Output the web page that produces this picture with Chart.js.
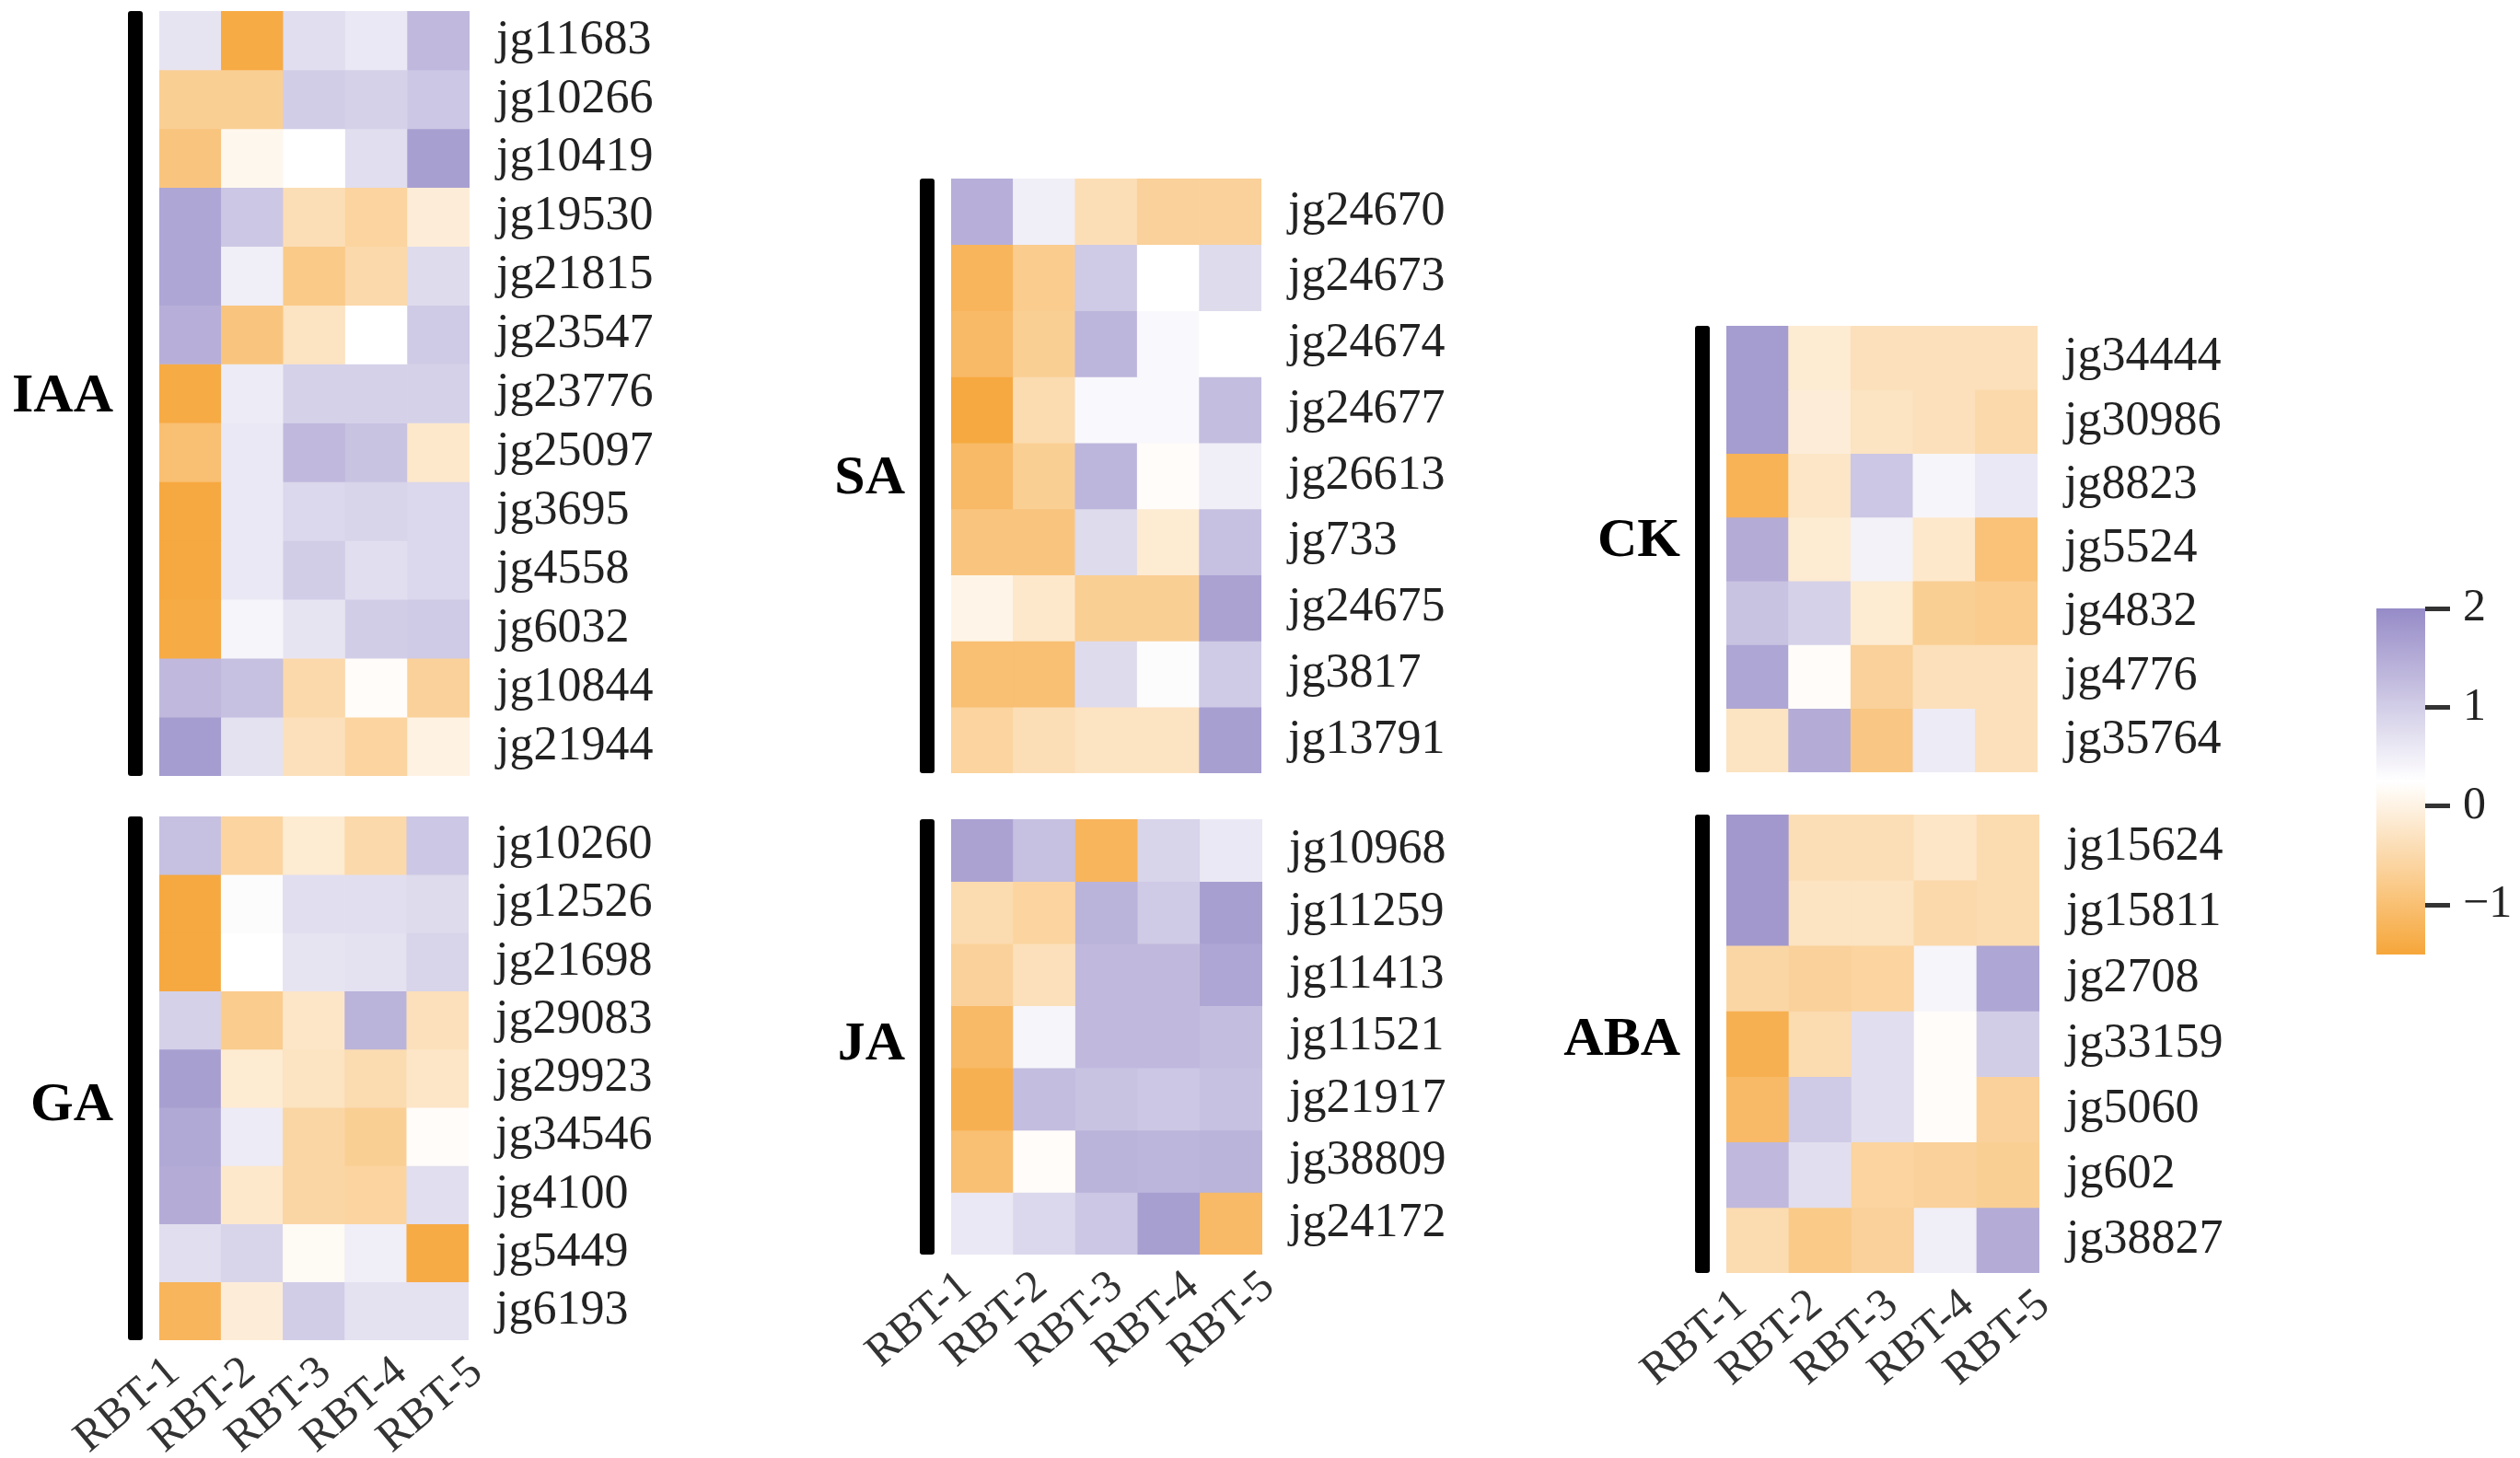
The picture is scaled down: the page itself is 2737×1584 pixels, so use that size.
<!DOCTYPE html>
<html>
<head>
<meta charset="utf-8">
<script src="https://cdn.jsdelivr.net/npm/chart.js@4.4.1/dist/chart.umd.min.js"></script>
<style>
  html, body { margin: 0; padding: 0; background: #ffffff; overflow: hidden; }
  #wrap { position: relative; width: 2737px; height: 1584px; background: #ffffff; }
  .panel { position: absolute; }
</style>
</head>
<body>
<div id="wrap"></div>
<script>
// ---------------- DATA ----------------
const cols = ['RBT-1', 'RBT-2', 'RBT-3', 'RBT-4', 'RBT-5'];

const iaaGenes = ['jg11683','jg10266','jg10419','jg19530','jg21815','jg23547','jg23776','jg25097','jg3695','jg4558','jg6032','jg10844','jg21944'];
const iaaValues = [
  [0.65, -1.40, 0.75, 0.60, 1.30],
  [-0.70, -0.70, 1.00, 0.95, 1.10],
  [-0.90, 0.10, 0.25, 0.75, 1.70],
  [1.60, 1.10, -0.40, -0.60, -0.10],
  [1.60, 0.50, -0.80, -0.50, 0.80],
  [1.45, -0.90, -0.30, 0.25, 1.05],
  [-1.40, 0.55, 0.95, 0.95, 0.95],
  [-1.00, 0.60, 1.30, 1.15, -0.20],
  [-1.45, 0.60, 0.85, 0.90, 0.85],
  [-1.45, 0.60, 1.00, 0.75, 0.85],
  [-1.40, 0.40, 0.65, 1.00, 1.05],
  [1.30, 1.20, -0.50, 0.20, -0.65],
  [1.75, 0.70, -0.35, -0.60, 0.00]
];

const gaGenes = ['jg10260','jg12526','jg21698','jg29083','jg29923','jg34546','jg4100','jg5449','jg6193'];
const gaValues = [
  [1.20, -0.60, -0.15, -0.50, 1.10],
  [-1.45, 0.30, 0.75, 0.75, 0.80],
  [-1.45, 0.25, 0.65, 0.70, 0.90],
  [0.95, -0.75, -0.25, 1.40, -0.35],
  [1.70, -0.15, -0.30, -0.45, -0.25],
  [1.55, 0.55, -0.55, -0.70, 0.20],
  [1.50, -0.20, -0.55, -0.60, 0.75],
  [0.75, 0.90, 0.15, 0.50, -1.40],
  [-1.20, -0.10, 1.00, 0.70, 0.70]
];

const saGenes = ['jg24670','jg24673','jg24674','jg24677','jg26613','jg733','jg24675','jg3817','jg13791'];
const saValues = [
  [1.45, 0.50, -0.40, -0.65, -0.65],
  [-1.20, -0.75, 1.05, 0.25, 0.80],
  [-1.10, -0.70, 1.35, 0.35, 0.25],
  [-1.45, -0.45, 0.35, 0.35, 1.25],
  [-1.10, -0.70, 1.35, 0.20, 0.50],
  [-0.90, -0.90, 0.80, -0.15, 1.20],
  [0.05, -0.20, -0.70, -0.70, 1.65],
  [-1.00, -1.00, 0.80, 0.30, 1.05],
  [-0.60, -0.40, -0.30, -0.30, 1.70]
];

const jaGenes = ['jg10968','jg11259','jg11413','jg11521','jg21917','jg38809','jg24172'];
const jaValues = [
  [1.65, 1.20, -1.20, 0.90, 0.60],
  [-0.45, -0.60, 1.40, 1.05, 1.70],
  [-0.65, -0.35, 1.30, 1.30, 1.60],
  [-1.10, 0.40, 1.30, 1.30, 1.25],
  [-1.30, 1.25, 1.15, 1.10, 1.20],
  [-1.00, 0.20, 1.40, 1.35, 1.40],
  [0.60, 0.85, 1.10, 1.70, -1.10]
];

const ckGenes = ['jg34444','jg30986','jg8823','jg5524','jg4832','jg4776','jg35764'];
const ckValues = [
  [1.75, -0.15, -0.35, -0.35, -0.35],
  [1.75, -0.10, -0.30, -0.35, -0.50],
  [-1.25, -0.25, 1.10, 0.40, 0.60],
  [1.50, -0.15, 0.45, -0.20, -0.95],
  [1.15, 0.95, -0.15, -0.70, -0.75],
  [1.60, 0.20, -0.65, -0.35, -0.35],
  [-0.30, 1.50, -0.85, 0.55, -0.35]
];

const abaGenes = ['jg15624','jg15811','jg2708','jg33159','jg5060','jg602','jg38827'];
const abaValues = [
  [1.80, -0.40, -0.40, -0.25, -0.45],
  [1.80, -0.30, -0.30, -0.50, -0.45],
  [-0.55, -0.65, -0.60, 0.40, 1.60],
  [-1.30, -0.45, 0.75, 0.20, 1.00],
  [-1.10, 1.05, 0.75, 0.20, -0.65],
  [1.30, 0.75, -0.60, -0.65, -0.70],
  [-0.45, -0.80, -0.65, 0.50, 1.50]
];

const colorbarTicks = [-1, 0, 1, 2];
const scaleMin = -1.5;
const scaleMax = 2;

// ---------------- STYLE / LAYOUT ----------------
const lowRGB = [246, 166, 58];
const midRGB = [255, 255, 255];
const highRGB = [150, 139, 199];
const midVal = (scaleMin + scaleMax) / 2;

function colorFor(v) {
  let b, t;
  if (v <= midVal) { b = lowRGB; t = (midVal - v) / (midVal - scaleMin); }
  else { b = highRGB; t = (v - midVal) / (scaleMax - midVal); }
  t = Math.max(0, Math.min(1, t));
  const c = midRGB.map((x, i) => Math.round(x + (b[i] - x) * t));
  return `rgb(${c[0]},${c[1]},${c[2]})`;
}

const SERIF = '"Liberation Serif", "Times New Roman", serif';
const padL = 200, padT = 10, padB = 10, yW = 240, xH = 150;
// column-label anchors (px from heatmap left) for the first and last label
const lblFirst = 16, lblLast = 345;

const panels = [
  { name: 'IAA', genes: iaaGenes, values: iaaValues, x: 173,  y: 12,  w: 337, h: 831, xLabels: false, dy: 4 },
  { name: 'GA',  genes: gaGenes,  values: gaValues,  x: 173,  y: 887, w: 336, h: 569, xLabels: true,  dy: 30 },
  { name: 'SA',  genes: saGenes,  values: saValues,  x: 1033, y: 194, w: 337, h: 646, xLabels: false, dy: 3 },
  { name: 'JA',  genes: jaGenes,  values: jaValues,  x: 1033, y: 890, w: 338, h: 473, xLabels: true,  dy: 9 },
  { name: 'CK',  genes: ckGenes,  values: ckValues,  x: 1875, y: 354, w: 338, h: 485, xLabels: false, dy: -8 },
  { name: 'ABA', genes: abaGenes, values: abaValues, x: 1875, y: 885, w: 340, h: 498, xLabels: true,  dy: -4 }
];

const groupPlugin = {
  id: 'group',
  afterDraw(chart, args, opts) {
    const { ctx, chartArea: a } = chart;
    ctx.save();
    ctx.fillStyle = '#000';
    const bw = 16, gap = 18;
    const bx = a.left - gap - bw;
    ctx.beginPath();
    if (ctx.roundRect) ctx.roundRect(bx, a.top, bw, a.bottom - a.top, 3);
    else ctx.rect(bx, a.top, bw, a.bottom - a.top);
    ctx.fill();
    ctx.font = 'bold 60px ' + SERIF;
    ctx.textAlign = 'right';
    ctx.textBaseline = 'middle';
    ctx.fillText(opts.text, bx - 16, (a.top + a.bottom) / 2 + opts.dy);
    ctx.restore();
  }
};

const wrap = document.getElementById('wrap');

function makeBox(left, top, width, height) {
  const d = document.createElement('div');
  d.className = 'panel';
  d.style.left = left + 'px';
  d.style.top = top + 'px';
  d.style.width = width + 'px';
  d.style.height = height + 'px';
  const c = document.createElement('canvas');
  d.appendChild(c);
  wrap.appendChild(d);
  return c;
}

panels.forEach(p => {
  const width = padL + p.w + yW;
  const height = padT + p.h + (p.xLabels ? xH : padB);
  const canvas = makeBox(p.x - padL, p.y - padT, width, height);
  const datasets = p.genes.map((g, i) => ({
    label: g,
    data: cols.map(() => 1),
    backgroundColor: p.values[i].map(colorFor),
    borderWidth: 0,
    barPercentage: 1,
    categoryPercentage: 1,
    xAxisID: 'x',
    yAxisID: 'y'
  }));
  const unit = (lblLast - lblFirst) / (cols.length - 1);
  const lMin = 1 - lblFirst / unit;
  const lMax = 1 + (p.w - lblFirst) / unit;
  const scales = {
    x: {
      type: 'category',
      stacked: true,
      offset: true,
      display: false
    },
    y: {
      type: 'linear',
      stacked: true,
      reverse: true,
      min: 0,
      max: p.genes.length,
      position: 'right',
      grid: { display: false, drawTicks: false },
      border: { display: false },
      afterBuildTicks: s => { s.ticks = p.genes.map((g, i) => ({ value: i + 0.5 })); },
      afterFit: s => { s.width = yW; s.paddingTop = 0; s.paddingBottom = 0; },
      ticks: {
        autoSkip: false,
        padding: 29,
        color: '#222222',
        font: { family: SERIF, size: 52 },
        callback: (v, i) => p.genes[i]
      }
    }
  };
  if (p.xLabels) {
    scales.xl = {
      type: 'linear',
      position: 'bottom',
      offset: false,
      min: lMin,
      max: lMax,
      grid: { display: false, drawTicks: false, offset: false },
      border: { display: false },
      afterBuildTicks: s => { s.ticks = cols.map((c, i) => ({ value: i + 1 })); },
      afterFit: s => { s.height = xH; s.paddingLeft = 0; s.paddingRight = 0; },
      ticks: {
        autoSkip: false,
        minRotation: 40,
        maxRotation: 40,
        padding: 6,
        color: '#333333',
        font: { family: SERIF, size: 49 },
        callback: (v, i) => cols[i]
      }
    };
  }
  new Chart(canvas, {
    type: 'bar',
    data: { labels: cols, datasets },
    plugins: [groupPlugin],
    options: {
      responsive: true,
      maintainAspectRatio: false,
      animation: false,
      events: [],
      layout: { padding: { left: padL, top: padT, right: 0, bottom: p.xLabels ? 0 : padB } },
      plugins: {
        legend: { display: false },
        tooltip: { enabled: false },
        group: { text: p.name, dy: p.dy }
      },
      scales
    }
  });
});

// ---------------- COLOUR BAR ----------------
(function () {
  const cbLeft = 2581, cbTop = 661, cbW = 53, cbH = 376;
  const pl = 10, pt = 50, pb = 50, axW = 150;
  const canvas = makeBox(cbLeft - pl, cbTop - pt, pl + cbW + axW, pt + cbH + pb);
  new Chart(canvas, {
    type: 'bar',
    data: {
      labels: [''],
      datasets: [{
        data: [[scaleMin, scaleMax]],
        borderWidth: 0,
        barPercentage: 1,
        categoryPercentage: 1,
        backgroundColor: (ctx) => {
          const chart = ctx.chart;
          const { chartArea, scales } = chart;
          if (!chartArea) return '#ccc';
          const y0 = scales.y.getPixelForValue(scaleMin);
          const y1 = scales.y.getPixelForValue(scaleMax);
          const g = chart.ctx.createLinearGradient(0, y0, 0, y1);
          const n = 20;
          for (let k = 0; k <= n; k++) {
            const v = scaleMin + (scaleMax - scaleMin) * k / n;
            g.addColorStop(k / n, colorFor(v));
          }
          return g;
        }
      }]
    },
    options: {
      responsive: true,
      maintainAspectRatio: false,
      animation: false,
      events: [],
      layout: { padding: { left: pl, top: pt, bottom: pb, right: 0 } },
      plugins: { legend: { display: false }, tooltip: { enabled: false } },
      scales: {
        x: { display: false, offset: true },
        y: {
          position: 'right',
          min: scaleMin,
          max: scaleMax,
          border: { display: false },
          grid: { display: true, drawOnChartArea: false, drawTicks: true, tickLength: 27, lineWidth: 5, tickColor: '#333333', color: '#333333' },
          afterBuildTicks: s => { s.ticks = colorbarTicks.map(v => ({ value: v })); },
          afterFit: s => { s.width = axW; s.paddingTop = 0; s.paddingBottom = 0; },
          ticks: {
            padding: 14,
            color: '#222222',
            font: { family: SERIF, size: 50 },
            callback: v => (v < 0 ? '\u2212' + Math.abs(v) : String(v))
          }
        }
      }
    }
  });
})();
</script>
</body>
</html>
